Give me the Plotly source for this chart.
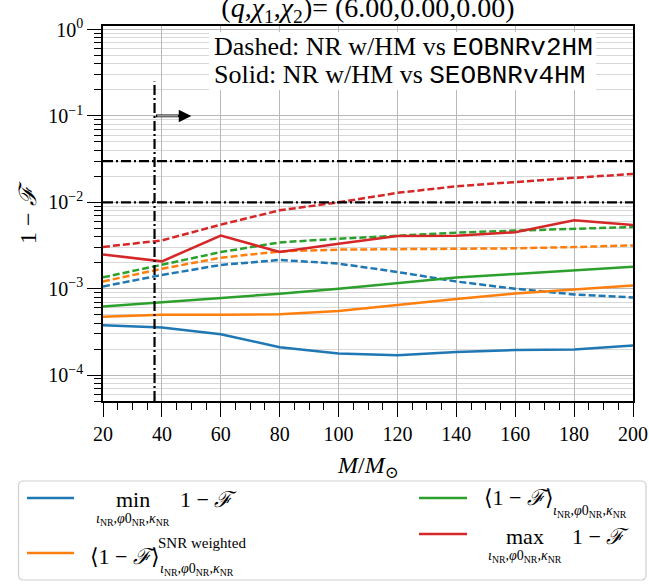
import math
import plotly.graph_objects as go

# ---------------- data ----------------
masses = [20, 40, 60, 80, 100, 120, 140, 160, 180, 200]

min_solid = [3.78e-4, 3.55e-4, 2.97e-4, 2.10e-4, 1.77e-4, 1.69e-4, 1.85e-4, 1.95e-4, 1.97e-4, 2.19e-4]
snr_solid = [4.72e-4, 4.98e-4, 4.98e-4, 5.05e-4, 5.50e-4, 6.50e-4, 7.57e-4, 8.80e-4, 9.70e-4, 1.09e-3]
mean_solid = [6.22e-4, 6.99e-4, 7.83e-4, 8.72e-4, 1.00e-3, 1.17e-3, 1.35e-3, 1.48e-3, 1.64e-3, 1.79e-3]
max_solid = [2.49e-3, 2.07e-3, 4.11e-3, 2.66e-3, 3.32e-3, 4.07e-3, 4.10e-3, 4.49e-3, 6.18e-3, 5.47e-3]

min_dashed = [1.06e-3, 1.44e-3, 1.88e-3, 2.15e-3, 1.95e-3, 1.56e-3, 1.21e-3, 9.97e-4, 8.57e-4, 7.91e-4]
snr_dashed = [1.21e-3, 1.70e-3, 2.28e-3, 2.70e-3, 2.83e-3, 2.87e-3, 2.87e-3, 2.93e-3, 3.03e-3, 3.17e-3]
mean_dashed = [1.35e-3, 1.91e-3, 2.65e-3, 3.43e-3, 3.79e-3, 4.10e-3, 4.45e-3, 4.70e-3, 4.91e-3, 5.17e-3]
max_dashed = [3.04e-3, 3.62e-3, 5.51e-3, 8.07e-3, 1.00e-2, 1.285e-2, 1.533e-2, 1.725e-2, 1.92e-2, 2.13e-2]

thresholds = [0.01, 0.03]
mass_cut = 37.5
mass_cut_top = 0.25
arrow_end_mass = 50.0
arrow_level = 0.1

x_ticks = [20, 40, 60, 80, 100, 120, 140, 160, 180, 200]
y_ticks = [1e-4, 1e-3, 1e-2, 1e-1, 1.0]
y_ticklabels = ["10<sup>−4</sup>", "10<sup>−3</sup>", "10<sup>−2</sup>", "10<sup>−1</sup>", "10<sup>0</sup>"]
y_min, y_max = 5e-5, 1.1

BLUE, ORANGE, GREEN, RED = "#1f77b4", "#ff7f0e", "#2ca02c", "#d62728"
SERIF = "Liberation Serif, DejaVu Serif, serif"
MONO = "Liberation Mono"

W, H = 649, 584
ML, MR, MT, MB = 103, 16, 26, 183
PW, PH = W - ML - MR, H - MT - MB


def PX(px):
    return (px - ML) / PW


def PY(py):
    return (H - MB - py) / PH


fig = go.Figure()

DASH = "7px,3px"
DASHDOT = "10px,3px,2px,3px"
LW = 2.5

for vals, col in [(min_dashed, BLUE), (snr_dashed, ORANGE), (mean_dashed, GREEN), (max_dashed, RED)]:
    fig.add_trace(go.Scatter(x=masses, y=vals, mode="lines",
                             line=dict(color=col, width=LW, dash=DASH),
                             showlegend=False, hoverinfo="skip"))
for vals, col in [(min_solid, BLUE), (snr_solid, ORANGE), (mean_solid, GREEN), (max_solid, RED)]:
    fig.add_trace(go.Scatter(x=masses, y=vals, mode="lines",
                             line=dict(color=col, width=LW),
                             showlegend=False, hoverinfo="skip"))

for t in thresholds:
    fig.add_trace(go.Scatter(x=[x_ticks[0], x_ticks[-1]], y=[t, t], mode="lines",
                             line=dict(color="black", width=2.2, dash=DASHDOT),
                             showlegend=False, hoverinfo="skip"))
fig.add_trace(go.Scatter(x=[mass_cut, mass_cut], y=[y_min, mass_cut_top], mode="lines",
                         line=dict(color="black", width=2.2, dash=DASHDOT),
                         showlegend=False, hoverinfo="skip"))

# arrow (hollow-looking)
fig.add_annotation(x=arrow_end_mass, y=math.log10(arrow_level), ax=mass_cut, ay=math.log10(arrow_level),
                   xref="x", yref="y", axref="x", ayref="y", text="", showarrow=True,
                   arrowhead=2, arrowsize=0.9, arrowwidth=2.8, arrowcolor="black")
fig.add_annotation(x=arrow_end_mass - 4.5, y=math.log10(arrow_level), ax=mass_cut + 0.4, ay=math.log10(arrow_level),
                   xref="x", yref="y", axref="x", ayref="y", text="", showarrow=True,
                   arrowhead=0, arrowwidth=1.0, arrowcolor="white")

# text box (white background + two lines)
fig.add_shape(type="rect", xref="paper", yref="paper", x0=PX(209), x1=PX(596), y0=PY(90), y1=PY(32),
              fillcolor="white", line=dict(width=0), layer="above")
box_lines = [
    ("Dashed: NR w/HM vs <span style='font-family:%s'>EOBNRv2HM</span>" % MONO, 47),
    ("Solid: NR w/HM vs <span style='font-family:%s'>SEOBNRv4HM</span>" % MONO, 76),
]
for s, yy in box_lines:
    fig.add_annotation(xref="paper", yref="paper", x=PX(212), y=PY(yy), xanchor="left", yanchor="middle",
                       text=s, showarrow=False, font=dict(family=SERIF, size=26, color="black"))

# axis titles
fig.add_annotation(xref="paper", yref="paper", x=PX(28), y=PY(213), text="1 − <i>ℱ</i>",
                   xanchor="center", yanchor="middle",
                   textangle=-90, showarrow=False, font=dict(family=SERIF, size=24, color="black"))
fig.add_annotation(xref="paper", yref="paper", x=PX(368), y=PY(467),
                   xanchor="center", yanchor="middle",
                   text="<i>M</i>/<i>M</i><sub>⊙</sub>",
                   showarrow=False, font=dict(family=SERIF, size=24, color="black"))


# ---------------- manual legend ----------------
def rr_path(x0, y0, x1, y1, r):
    rx, ry = r / PW, r / PH
    a, b, c, d = PX(x0), PY(y0), PX(x1), PY(y1)
    return (f"M {a+rx},{b} L {c-rx},{b} Q {c},{b} {c},{b-ry} L {c},{d+ry} Q {c},{d} {c-rx},{d} "
            f"L {a+rx},{d} Q {a},{d} {a},{d+ry} L {a},{b-ry} Q {a},{b} {a+rx},{b} Z")


fig.add_shape(type="path", xref="paper", yref="paper", path=rr_path(18.5, 481, 646, 580, 5),
              line=dict(color="#d0d0d0", width=1.2), fillcolor="white", layer="above")

sub_txt = "<i>ι</i><sub>NR</sub>,<i>φ</i>0<sub>NR</sub>,<i>κ</i><sub>NR</sub>"
leg_lines = [(BLUE, 27, 74, 498), (ORANGE, 27, 74, 553), (GREEN, 419, 467, 498), (RED, 419, 467, 534)]
for col, x0, x1, yy in leg_lines:
    fig.add_shape(type="line", xref="paper", yref="paper", x0=PX(x0), x1=PX(x1), y0=PY(yy), y1=PY(yy),
                  line=dict(color=col, width=LW), layer="above")


def txt(x, y, s, size, xanchor="left"):
    fig.add_annotation(xref="paper", yref="paper", x=PX(x), y=PY(y), text=s, xanchor=xanchor,
                       yanchor="middle", showarrow=False,
                       font=dict(family=SERIF, size=size, color="black"))


# blue
txt(133, 499, "min", 22, "center")
txt(133, 519, sub_txt, 14, "center")
txt(178, 499, "1 − <i>ℱ</i>", 22)
# orange
txt(88, 556, "⟨1 − <i>ℱ</i>⟩", 22)
txt(156, 543, "SNR weighted", 15)
txt(158, 569, sub_txt, 14)
# green
txt(482, 497, "⟨1 − <i>ℱ</i>⟩", 22)
txt(551, 511, sub_txt, 14)
# red
txt(525, 536, "max", 22, "center")
txt(525, 556, sub_txt, 14, "center")
txt(570, 536, "1 − <i>ℱ</i>", 22)

# ---------------- layout ----------------
minor_y = [k * 10.0 ** e for e in range(-5, 1) for k in range(2, 10) if y_min <= k * 10.0 ** e <= y_max]

fig.update_layout(
    width=W, height=H,
    margin=dict(l=ML, r=MR, t=MT, b=MB, pad=0, autoexpand=False),
    plot_bgcolor="white", paper_bgcolor="white",
    showlegend=False,
    title=dict(text="(<i>q</i>,<i>χ</i><sub>1</sub>,<i>χ</i><sub>2</sub>)= (6.00,0.00,0.00)",
               x=368 / W, xref="container", xanchor="center",
               y=1 - 7 / H, yref="container", yanchor="middle",
               font=dict(family=SERIF, size=28, color="black")),
    xaxis=dict(range=[x_ticks[0], x_ticks[-1]], tickmode="array", tickvals=x_ticks,
               automargin=False,
               ticks="outside", ticklen=14, tickwidth=1.2, tickcolor="black",
               ticklabelstandoff=0,
               minor=dict(dtick=5, tick0=0, ticks="outside", ticklen=7, tickwidth=1, tickcolor="black",
                          showgrid=False),
               showgrid=True, gridcolor="#b8b8b8", gridwidth=1.2, zeroline=False,
               showline=True, mirror=True, linecolor="black", linewidth=1.5,
               tickfont=dict(family=SERIF, size=20, color="black")),
    yaxis=dict(type="log", range=[math.log10(y_min), math.log10(y_max)],
               automargin=False,
               tickmode="array", tickvals=y_ticks, ticktext=y_ticklabels,
               ticks="outside", ticklen=14, tickwidth=1.2, tickcolor="black",
               minor=dict(tickmode="array", tickvals=minor_y, ticks="outside", ticklen=7, tickwidth=1,
                          tickcolor="black", showgrid=True, gridcolor="#d8d8d8", gridwidth=1.2),
               showgrid=True, gridcolor="#b8b8b8", gridwidth=1.2, zeroline=False,
               showline=True, mirror=True, linecolor="black", linewidth=1.5,
               tickfont=dict(family=SERIF, size=20, color="black")),
)

fig.write_html("out.html", config={"displayModeBar": False},
               post_script="document.body.style.margin='0';document.body.style.overflow='hidden';")
